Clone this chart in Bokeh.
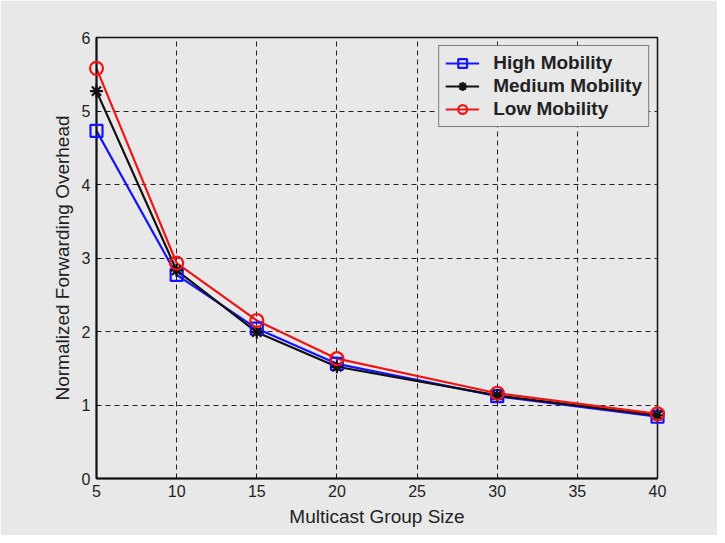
from bokeh.plotting import figure
from bokeh.models import Legend, LegendItem, FixedTicker
from bokeh.embed import file_html
from bokeh.resources import INLINE

group_size = [5, 10, 15, 20, 30, 40]
high_mobility = [4.73, 2.77, 2.04, 1.56, 1.12, 0.84]
medium_mobility = [5.27, 2.83, 1.99, 1.52, 1.13, 0.86]
low_mobility = [5.58, 2.93, 2.15, 1.63, 1.16, 0.88]
x_ticks = [5, 10, 15, 20, 25, 30, 35, 40]
y_ticks = [0, 1, 2, 3, 4, 5, 6]

BG = "#e8e8e8"
FONT = "Liberation Sans"

p = figure(width=717, height=535, output_backend="svg", toolbar_location=None,
           x_range=(5, 40), y_range=(0, 6),
           min_border_left=96, min_border_right=60, min_border_top=37, min_border_bottom=57)
p.background_fill_color = BG
p.border_fill_color = BG
p.outline_line_color = "#111111"
p.outline_line_width = 1.5

p.xaxis.ticker = FixedTicker(ticks=x_ticks)
p.yaxis.ticker = FixedTicker(ticks=y_ticks)
for ax in (p.xaxis[0], p.yaxis[0]):
    ax.axis_line_color = "#111111"
    ax.axis_line_width = 2
    ax.major_tick_in = 4
    ax.major_tick_out = 0
    ax.minor_tick_line_color = None
    ax.major_tick_line_color = "#111111"
    ax.major_label_text_font = FONT
    ax.major_label_text_font_size = "16px"
    ax.major_label_text_color = "#222222"
    ax.axis_label_text_font = FONT
    ax.axis_label_text_font_size = "19px"
    ax.axis_label_text_font_style = "normal"
    ax.axis_label_text_color = "#222222"
p.xaxis.axis_label = "Multicast Group Size"
p.yaxis.axis_label = "Normalized Forwarding Overhead"
p.xaxis.major_label_standoff = 6
p.yaxis.major_label_standoff = 6
p.xaxis.axis_label_standoff = 6
p.yaxis.axis_label_standoff = 6

p.grid.grid_line_color = "#222222"
p.grid.grid_line_dash = "5 4"
p.grid.grid_line_width = 1

r_h_line = p.line(group_size, high_mobility, line_color="#1414ff", line_width=2.2)
r_h_mk = p.scatter(group_size, high_mobility, marker="square", size=12, fill_color=None,
                   line_color="#1414ff", line_width=2.2, level="overlay")
r_m_line = p.line(group_size, medium_mobility, line_color="#111111", line_width=2.2)
r_m_mk = p.scatter(group_size, medium_mobility, marker="asterisk", size=13,
                   line_color="#111111", line_width=2.2, level="overlay")
r_l_line = p.line(group_size, low_mobility, line_color="#f01414", line_width=2.2)
r_l_mk = p.scatter(group_size, low_mobility, marker="circle", size=13, fill_color=None,
                   line_color="#f01414", line_width=2.2, level="overlay")

legend = Legend(items=[
    LegendItem(label="High Mobility", renderers=[r_h_line, r_h_mk]),
    LegendItem(label="Medium Mobility", renderers=[r_m_line, r_m_mk]),
    LegendItem(label="Low Mobility", renderers=[r_l_line, r_l_mk]),
], location="top_right")
legend.margin = 8
legend.padding = 6
legend.spacing = 1
legend.glyph_width = 34
legend.glyph_height = 22
legend.label_height = 22
legend.label_standoff = 14
legend.label_text_font = FONT
legend.label_text_font_size = "19px"
legend.label_text_font_style = "bold"
legend.label_text_color = "#222222"
legend.background_fill_color = BG
legend.background_fill_alpha = 1
legend.border_line_color = "#111111"
legend.border_line_width = 1.2
p.add_layout(legend)

open("out.html", "w").write(file_html(p, INLINE))
